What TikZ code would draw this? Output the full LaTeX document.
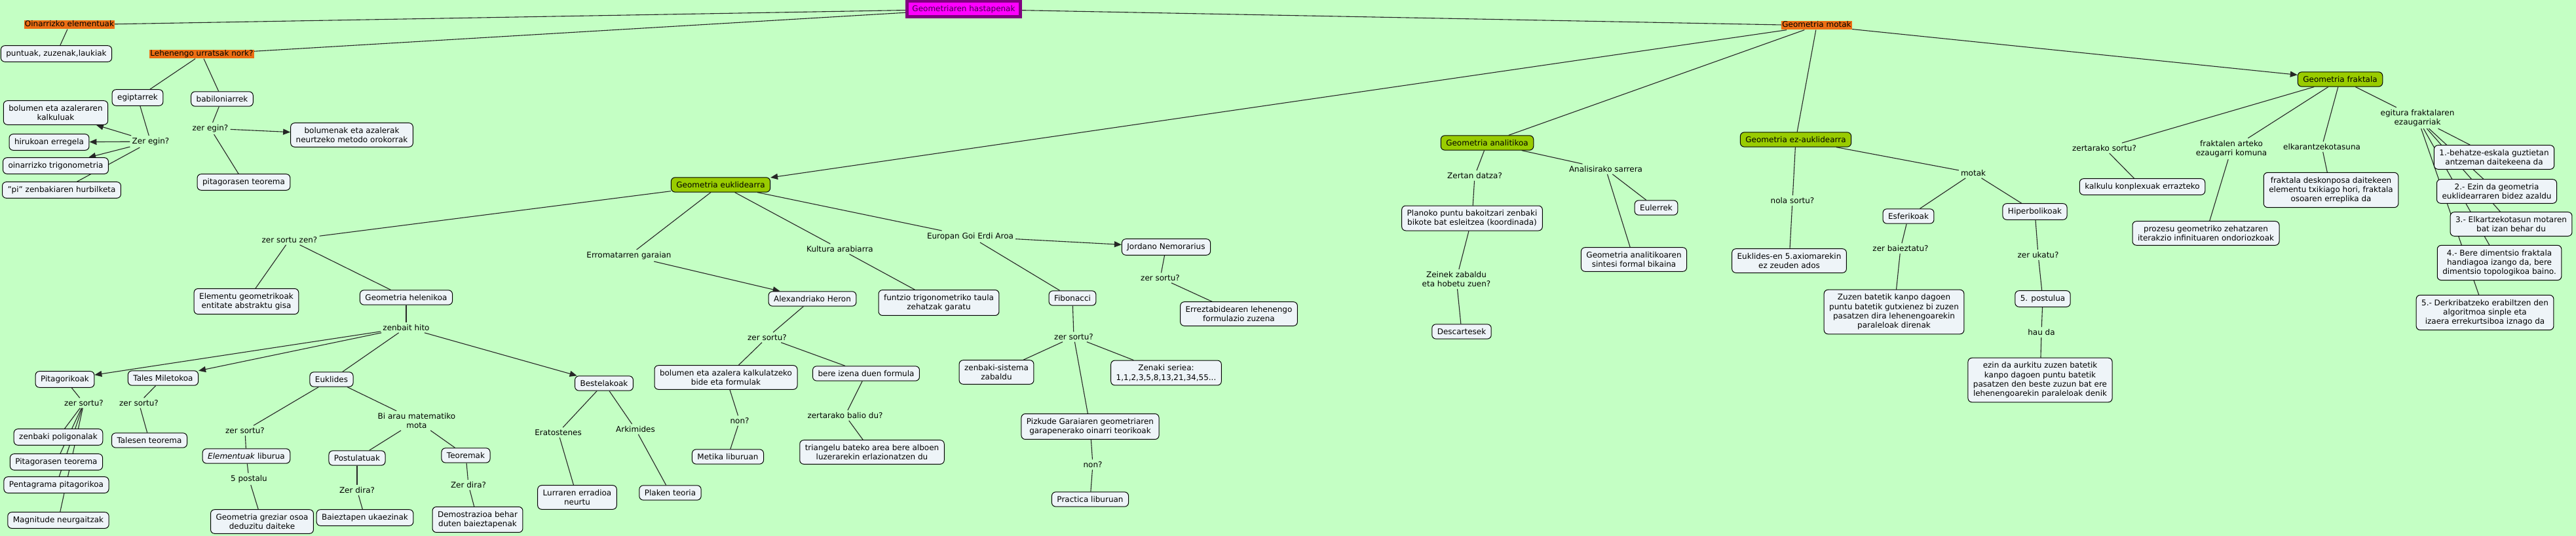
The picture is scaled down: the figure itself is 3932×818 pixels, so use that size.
\documentclass[tikz,border=0pt]{standalone}
\usepackage{fontspec}
\setmainfont{DejaVu Sans}
\usetikzlibrary{arrows.meta}
\pgfdeclarelayer{pagebg}
\pgfdeclarelayer{edges}
\pgfsetlayers{pagebg,edges,main}
\definecolor{pagegreen}{RGB}{196,255,196}
\definecolor{nodefill}{RGB}{238,244,248}
\definecolor{conceptgreen}{RGB}{153,204,0}
\definecolor{labelorange}{RGB}{236,110,20}
\definecolor{hastfill}{RGB}{255,0,255}
\definecolor{hastdraw}{RGB}{128,0,128}
\definecolor{hasttext}{RGB}{70,0,80}
\tikzset{
 base/.style={font=\fontsize{12}{14.3}\selectfont, align=center},
 cbox/.style={base, draw=black, line width=1pt, rounded corners=6pt, fill=nodefill, inner xsep=8pt, inner ysep=6.5pt},
 gbox/.style={cbox, fill=conceptgreen},
 obox/.style={base, fill=labelorange, inner xsep=1pt, inner ysep=0.5pt, text height=9pt, text depth=3pt},
 lbl/.style={base, inner sep=3pt},
 hbox/.style={base, fill=hastfill, draw=hastdraw, line width=5pt, inner xsep=8pt, minimum height=24pt, text=hasttext},
 conn/.style={draw=black!85, line width=1.1pt},
 arr/.style={conn, -{Triangle[length=11pt,width=9pt]}},
}
\begin{document}
\begin{tikzpicture}[x=1pt,y=-1pt]
\useasboundingbox (0,0) rectangle (3932,818);
\begin{pgfonlayer}{pagebg}
\fill[pagegreen] (0,0) rectangle (3932,818);
\end{pgfonlayer}
% top
\node[hbox] (hast) at (1471,14) {Geometriaren hastapenak};
\node[obox] (oin) at (106,38) {Oinarrizko elementuak};
\node[obox] (leh) at (308,83) {Lehenengo urratsak nork?};
\node[obox] (motak) at (2773,39) {Geometria motak};
% left section
\node[cbox] (puntuak) at (86,82) {puntuak, zuzenak,laukiak};
\node[cbox] (egipt) at (210,149) {egiptarrek};
\node[cbox] (babil) at (339,151) {babiloniarrek};
\node[cbox] (bolkal) at (85,172) {bolumen eta azaleraren\\kalkuluak};
\node[cbox] (hiruk) at (75,217) {hirukoan erregela};
\node[cbox] (trig) at (85,253) {oinarrizko trigonometria};
\node[cbox] (pi) at (94,290) {"pi" zenbakiaren hurbilketa};
\node[lbl] (zeregA) at (230,216) {Zer egin?};
\node[lbl] (zeregB) at (321,196) {zer egin?};
\node[cbox] (bolmet) at (537,206) {bolumenak eta azalerak\\neurtzeko metodo orokorrak};
\node[cbox] (pitag) at (372,278) {pitagorasen teorema};
\node[lbl] (sortuzen) at (442,366) {zer sortu zen?};
\node[cbox] (elemgeo) at (376,460) {Elementu geometrikoak\\entitate abstraktu gisa};
\node[cbox] (helen) at (620,454) {Geometria helenikoa};
\node[lbl] (hito) at (620,500) {zenbait hito};
\node[cbox] (pitagk) at (99,579) {Pitagorikoak};
\node[cbox] (tales) at (249,577) {Tales Miletokoa};
\node[cbox] (eukl) at (506,579) {Euklides};
\node[lbl] (sortP) at (128,615) {zer sortu?};
\node[lbl] (sortT) at (212,615) {zer sortu?};
\node[cbox] (poli) at (89,667) {zenbaki poligonalak};
\node[cbox] (pitteo) at (86,705) {Pitagorasen teorema};
\node[cbox] (penta) at (86,740) {Pentagrama pitagorikoa};
\node[cbox] (magn) at (89,794) {Magnitude neurgaitzak};
\node[cbox] (talteo) at (228,672) {Talesen teorema};
\node[lbl] (sortE) at (374,657) {zer sortu?};
\node[cbox] (elemlib) at (376,696) {\textit{Elementuak} liburua};
\node[lbl] (postalu) at (380,731) {5 postalu};
\node[cbox] (greziar) at (400,796) {Geometria greziar osoa\\deduzitu daiteke};
\node[lbl] (biarau) at (636,642) {Bi arau matematiko\\mota};
\node[cbox] (postul) at (545,699) {Postulatuak};
\node[cbox] (teorem) at (711,695) {Teoremak};
\node[lbl] (diraA) at (545,748) {Zer dira?};
\node[lbl] (diraB) at (715,740) {Zer dira?};
\node[cbox] (baiez) at (557,790) {Baieztapen ukaezinak};
\node[cbox] (demos) at (729,793) {Demostrazioa behar\\duten baieztapenak};
% middle
\node[gbox] (geukl) at (1100,282) {Geometria euklidearra};
\node[lbl] (erromat) at (960,390) {Erromatarren garaian};
\node[lbl] (kultura) at (1282,380) {Kultura arabiarra};
\node[lbl] (europan) at (1481,361) {Europan Goi Erdi Aroa};
\node[cbox] (heron) at (1240,456) {Alexandriako Heron};
\node[cbox] (funtzio) at (1433,462) {funtzio trigonometriko taula\\zehatzak garatu};
\node[lbl] (sortH) at (1171,515) {zer sortu?};
\node[cbox] (bolform) at (1108,576) {bolumen eta azalera kalkulatzeko\\bide eta formulak};
\node[cbox] (bereiz) at (1322,570) {bere izena duen formula};
\node[lbl] (nonA) at (1129,642) {non?};
\node[cbox] (metika) at (1111,697) {Metika liburuan};
\node[lbl] (zertbal) at (1290,634) {zertarako balio du?};
\node[cbox] (triang) at (1331,690) {triangelu bateko area bere alboen\\luzerarekin erlazionatzen du};
\node[cbox] (bestel) at (922,585) {Bestelakoak};
\node[lbl] (erato) at (852,660) {Eratostenes};
\node[cbox] (lurrar) at (881,759) {Lurraren erradioa\\neurtu};
\node[lbl] (arkim) at (970,655) {Arkimides};
\node[cbox] (plaken) at (1023,752) {Plaken teoria};
\node[cbox] (jordano) at (1780,377) {Jordano Nemorarius};
\node[lbl] (sortJ) at (1771,424) {zer sortu?};
\node[cbox] (errezt) at (1891,479) {Erreztabidearen lehenengo\\formulazio zuzena};
\node[cbox] (fibon) at (1637,455) {Fibonacci};
\node[lbl] (sortF) at (1639,514) {zer sortu?};
\node[cbox] (zensis) at (1521,568) {zenbaki-sistema\\zabaldu};
\node[cbox] (zenaki) at (1780,569) {Zenaki seriea:\\1,1,2,3,5,8,13,21,34,55...};
\node[cbox] (pizkude) at (1664,651) {Pizkude Garaiaren geometriaren\\garapenerako oinarri teorikoak};
\node[lbl] (nonB) at (1668,709) {non?};
\node[cbox] (practica) at (1664,762) {Practica liburuan};
% analitikoa
\node[gbox] (ganal) at (2270,218) {Geometria analitikoa};
\node[lbl] (zertan) at (2251,268) {Zertan datza?};
\node[cbox] (planoko) at (2247,333) {Planoko puntu bakoitzari zenbaki\\bikote bat esleitzea (koordinada)};
\node[lbl] (zeinek) at (2223,426) {Zeinek zabaldu\\eta hobetu zuen?};
\node[cbox] (descart) at (2231,506) {Descartesek};
\node[lbl] (analis) at (2451,258) {Analisirako sarrera};
\node[cbox] (euler) at (2528,317) {Eulerrek};
\node[cbox] (ganalsin) at (2494,396) {Geometria analitikoaren\\sintesi formal bikaina};
% ez-euklidearra
\node[gbox] (gezeu) at (2741,213) {Geometria ez-auklidearra};
\node[lbl] (nola) at (2736,306) {nola sortu?};
\node[cbox] (eukl5) at (2731,398) {Euklides-en 5.axiomarekin\\ez zeuden ados};
\node[lbl] (motakL) at (3012,264) {motak};
\node[cbox] (esfer) at (2913,330) {Esferikoak};
\node[cbox] (hiperb) at (3106,323) {Hiperbolikoak};
\node[lbl] (baieztatu) at (2901,379) {zer baieztatu?};
\node[cbox] (zuzen) at (2891,476) {Zuzen batetik kanpo dagoen\\puntu batetik gutxienez bi zuzen\\pasatzen dira lehenengoarekin\\paraleloak direnak};
\node[lbl] (ukatu) at (3111,389) {zer ukatu?};
\node[cbox] (post5) at (3118,456) {5. postulua};
\node[lbl] (hauda) at (3116,507) {hau da};
\node[cbox] (ezin) at (3114,580) {ezin da aurkitu zuzen batetik\\kanpo dagoen puntu batetik\\pasatzen den beste zuzun bat ere\\lehenengoarekin paraleloak denik};
% fraktala
\node[gbox] (gfrak) at (3572,121) {Geometria fraktala};
\node[lbl] (zertsortu) at (3212,226) {zertarako sortu?};
\node[cbox] (kalkulu) at (3270,285) {kalkulu konplexuak errazteko};
\node[lbl] (komuna) at (3406,227) {fraktalen arteko\\ezaugarri komuna};
\node[cbox] (prozesu) at (3367,356) {prozesu geometriko zehatzaren\\iterakzio infinituaren ondoriozkoak};
\node[lbl] (elkar) at (3544,224) {elkarantzekotasuna};
\node[cbox] (deskon) at (3558,290) {fraktala deskonposa daitekeen\\elementu txikiago hori, fraktala\\osoaren erreplika da};
\node[lbl] (egitura) at (3690,180) {egitura fraktalaren\\ezaugarriak};
\node[cbox] (f1) at (3807,240) {1.-behatze-eskala guztietan\\antzeman daitekeena da};
\node[cbox] (f2) at (3811,292) {2.- Ezin da geometria\\euklidearraren bidez azaldu};
\node[cbox] (f3) at (3833,342) {3.- Elkartzekotasun motaren\\bat izan behar du};
\node[cbox] (f4) at (3815,401) {4.- Bere dimentsio fraktala\\handiagoa izango da, bere\\dimentsio topologikoa baino.};
\node[cbox] (f5) at (3793,477) {5.- Derkribatzeko erabiltzen den\\algoritmoa sinple eta\\izaera errekurtsiboa iznago da};
% connectors
\begin{pgfonlayer}{edges}
\foreach \a/\b in {oin/hast, leh/hast, hast/motak, oin/puntuak, leh/egipt, leh/babil,
  egipt/zeregA, zeregA/pi, babil/zeregB, zeregB/pitag,
  motak/ganal, motak/gezeu,
  geukl/sortuzen, sortuzen/elemgeo, sortuzen/helen, helen/hito, hito/eukl,
  pitagk/sortP, sortP/poli, sortP/pitteo, sortP/penta, sortP/magn,
  tales/sortT, sortT/talteo,
  eukl/sortE, sortE/elemlib, elemlib/postalu, postalu/greziar,
  eukl/biarau, biarau/postul, biarau/teorem, postul/diraA, diraA/baiez, teorem/diraB, diraB/demos,
  geukl/erromat, geukl/kultura, geukl/europan, kultura/funtzio, europan/fibon,
  heron/sortH, sortH/bolform, sortH/bereiz, bolform/nonA, nonA/metika, bereiz/zertbal, zertbal/triang,
  bestel/erato, erato/lurrar, bestel/arkim, arkim/plaken,
  jordano/sortJ, sortJ/errezt,
  fibon/sortF, sortF/zensis, sortF/zenaki, sortF/pizkude, pizkude/nonB, nonB/practica,
  ganal/zertan, zertan/planoko, planoko/zeinek, zeinek/descart,
  ganal/analis, analis/euler, analis/ganalsin,
  gezeu/nola, nola/eukl5, gezeu/motakL, motakL/esfer, motakL/hiperb,
  esfer/baieztatu, baieztatu/zuzen, hiperb/ukatu, ukatu/post5, post5/hauda, hauda/ezin,
  gfrak/zertsortu, zertsortu/kalkulu, gfrak/komuna, komuna/prozesu, gfrak/elkar, elkar/deskon,
  gfrak/egitura, egitura/f1, egitura/f2, egitura/f3, egitura/f4, egitura/f5}
  \draw[conn] (\a) -- (\b);
\foreach \a/\b in {zeregA/bolkal, zeregA/hiruk, zeregA/trig, zeregB/bolmet,
  motak/geukl, motak/gfrak, hito/pitagk, hito/tales, hito/bestel,
  erromat/heron, europan/jordano}
  \draw[arr] (\a) -- (\b);
\end{pgfonlayer}
\end{tikzpicture}
\end{document}
